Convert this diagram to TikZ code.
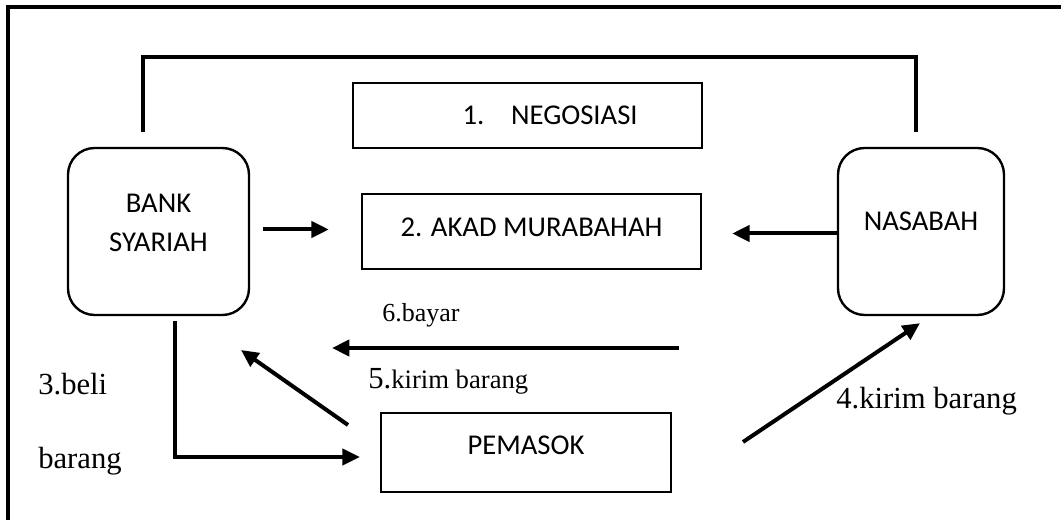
\documentclass[tikz,border=0pt]{standalone}
\usepackage{fontspec}
\setmainfont{Liberation Serif}
\newfontfamily\calibri{Carlito}
\usetikzlibrary{arrows.meta,calc}

\begin{document}
\begin{tikzpicture}[x=0.75pt,y=-0.75pt,
  box/.style={draw,line width=1.8pt,inner sep=0pt,font=\calibri\fontsize{21.5}{29}\selectfont},
  rbox/.style={box,rounded corners=20pt,align=center},
  arr/.style={line width=3pt,-{Triangle[length=13pt,width=12pt]}},
  lbl/.style={anchor=base west,inner sep=0pt,font=\fontsize{23}{28}\selectfont}]
\useasboundingbox (0,0) rectangle (1061,520);
\draw[line width=2.4pt] (1070,7) -- (8,7) -- (8,530);
% parties
\node[rbox,minimum width=135.75pt,minimum height=125.25pt] (bank) at (158.5,231.5) {BANK\\SYARIAH\rule[-13.5pt]{0pt}{0pt}};
\node[rbox,minimum width=124.5pt,minimum height=125.25pt] (nasabah) at (921,231.5) {NASABAH\rule[-15.5pt]{0pt}{0pt}};
% steps
\node[box,minimum width=261.75pt,minimum height=48.75pt] (nego) at (527.5,115.5) {\hspace{34pt}1.\hspace{20pt}NEGOSIASI};
\node[box,minimum width=254.25pt,minimum height=56.25pt] (akad) at (531.5,231.5) {2. AKAD MURABAHAH\rule[-6.75pt]{0pt}{0pt}};
\node[box,minimum width=217.5pt,minimum height=59.25pt] (pemasok) at (526,452.5) {PEMASOK\rule[-11pt]{0pt}{0pt}};
\coordinate (bayarA) at (679,348);
\coordinate (bayarB) at (332,348);
\coordinate (kirimA) at (348,425);
\coordinate (kirimB) at (241,350);
\coordinate (kirimC) at (743,442);
% connectors
\draw[line width=3pt] ($(bank.north)+(-15.5,-15)$) |- ($(nasabah.north)+(-5,-90)$) -- ($(nasabah.north)+(-5,-15)$);
\draw[arr] ($(bank.east)+(13,-2)$) -- ($(akad.west)+(-32,-2)$);
\draw[arr] ($(nasabah.west)+(0,2)$) -- ($(akad.east)+(30,2)$);
\draw[arr] (bayarA) -- (bayarB);
\draw[arr] (kirimA) -- (kirimB);
\draw[arr] (kirimC) -- ($(nasabah.south)+(-1,7)$);
\draw[arr,line width=2.6pt] ($(bank.south)+(16.5,5)$) |- ($(pemasok.west)+(-20,4.5)$);
% labels
\node[lbl,font=\fontsize{19.5}{24}\selectfont] (lbayar) at (382,322) {6.bayar};
\node[lbl,font=\fontsize{20}{24}\selectfont] (lkirim) at (368,389) {{\fontsize{23}{28}\selectfont 5.}kirim barang};
\node[lbl] (lkirimb) at (836,408) {4.kirim barang};
\node[lbl] (lbeli) at (38,395) {3.beli};
\node[lbl] (lbarang) at (38,468) {barang};
\end{tikzpicture}
\end{document}
